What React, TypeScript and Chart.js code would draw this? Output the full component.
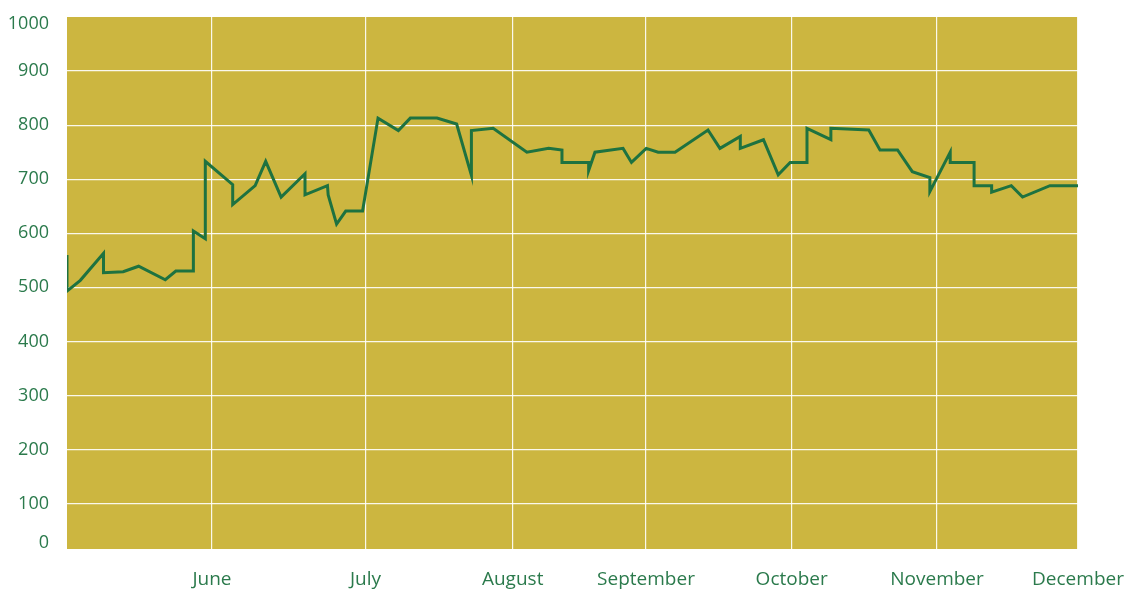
import React, { useEffect, useRef } from "react";
import { Chart, registerables } from "chart.js";

Chart.register(...registerables);

// x in trading-day units from the left edge of the chart
const SERIES_X = [
  0, 0, 1.9, 5.2, 5.2, 8.0, 10.2, 14.0, 15.5, 18.0, 18.0, 19.7, 19.7, 23.6, 23.6, 26.8, 28.3,
  30.5, 33.9, 33.9, 37.1, 37.2, 38.4, 39.7, 42.1, 44.3, 47.2, 48.9, 52.7, 55.5, 57.6,
  57.6, 60.7, 65.5, 68.6, 70.5, 70.5, 74.3, 74.3, 75.2, 79.2, 80.4, 82.5, 84.2, 86.6,
  91.3, 93.0, 95.9, 95.9, 99.2, 101.3, 103.0, 105.4, 105.4, 108.8, 108.8, 114.2, 115.8,
  118.3, 120.4, 122.9, 122.9, 125.8, 125.8, 129.2, 129.2, 131.7, 131.7, 134.5, 136.1,
  140.0, 144,
];
const SERIES_Y = [
  560, 493, 513, 563, 527, 529, 539, 514, 530, 530, 604, 590, 733, 690, 653, 688, 733,
  667, 710, 671, 688, 671, 617, 641, 641, 813, 790, 813, 813, 802, 707,
  790, 794, 750, 757, 754, 731, 731, 716, 750, 757, 731, 757, 750, 750,
  791, 757, 779, 757, 773, 708, 731, 731, 794, 773, 794, 791, 754,
  754, 714, 703, 677, 750, 731, 731, 688, 688, 676, 688, 667,
  688, 688,
];

const MONTH_POS = [20.65, 42.52, 63.48, 82.47, 103.22, 123.92, 144];
const MONTH_LABELS = ["June", "July", "August", "September", "October", "November", "December"];

const Y_TICK_POS = [28, 100, 200, 300, 400, 500, 600, 700, 800, 900, 987];
const Y_TICK_LABELS = ["0", "100", "200", "300", "400", "500", "600", "700", "800", "900", "1000"];

const PLOT_BG = "#CCB640";
const LINE_COLOR = "#1E7240";
const TEXT_COLOR = "#2B7A4C";
const GRID_COLOR = "rgba(255,255,255,0.9)";

const bgPlugin = {
  id: "plotBg",
  beforeDraw(chart: any) {
    const { ctx, chartArea } = chart;
    if (!chartArea) return;
    ctx.save();
    ctx.fillStyle = PLOT_BG;
    ctx.fillRect(chartArea.left, chartArea.top, chartArea.right - chartArea.left, chartArea.bottom - chartArea.top);
    ctx.restore();
  },
};

export default function App() {
  const canvasRef = useRef<HTMLCanvasElement | null>(null);

  useEffect(() => {
    document.body.style.margin = "0";
    const canvas = canvasRef.current;
    if (!canvas) return;
    const data = SERIES_X.map((x, i) => ({ x, y: SERIES_Y[i] }));
    const chart = new Chart(canvas, {
      type: "line",
      data: {
        datasets: [
          {
            data,
            borderColor: LINE_COLOR,
            borderWidth: 3,
            pointRadius: 0,
            tension: 0,
            fill: false,
            borderJoinStyle: "miter",
          },
        ],
      },
      options: {
        animation: false,
        responsive: false,
        maintainAspectRatio: false,
        layout: { padding: { top: 17, right: 47, left: 0, bottom: 0 } },
        plugins: { legend: { display: false }, tooltip: { enabled: false } },
        scales: {
          x: {
            type: "linear",
            min: 0,
            max: 144,
            afterBuildTicks: (scale: any) => {
              scale.ticks = MONTH_POS.map((v) => ({ value: v }));
            },
            afterFit: (scale: any) => {
              scale.height = 41;
              scale.paddingLeft = 0;
              scale.paddingRight = 0;
            },
            ticks: {
              autoSkip: false,
              maxRotation: 0,
              padding: 19,
              color: TEXT_COLOR,
              font: { family: "'Open Sans', sans-serif", size: 19 },
              callback: (_v: any, i: number) => MONTH_LABELS[i],
            },
            grid: { color: GRID_COLOR, lineWidth: 1.2, drawTicks: false },
            border: { display: false },
          },
          y: {
            type: "linear",
            min: 16,
            max: 1000,
            afterBuildTicks: (scale: any) => {
              scale.ticks = Y_TICK_POS.map((v) => ({ value: v }));
            },
            afterFit: (scale: any) => {
              scale.width = 67;
              scale.paddingTop = 0;
              scale.paddingBottom = 0;
            },
            ticks: {
              padding: 18,
              color: TEXT_COLOR,
              font: { family: "'Open Sans', sans-serif", size: 18 },
              callback: (_v: any, i: number) => Y_TICK_LABELS[i],
            },
            grid: {
              color: (c: any) =>
                c.index === 0 || c.index === Y_TICK_POS.length - 1 ? "rgba(0,0,0,0)" : GRID_COLOR,
              lineWidth: 1.2,
              drawTicks: false,
            },
            border: { display: false },
          },
        },
      },
      plugins: [bgPlugin],
    } as any);
    return () => chart.destroy();
  }, []);

  return (
    <div style={{ width: 1125, height: 590 }}>
      <canvas ref={canvasRef} width={1125} height={590} style={{ display: "block" }} />
    </div>
  );
}
